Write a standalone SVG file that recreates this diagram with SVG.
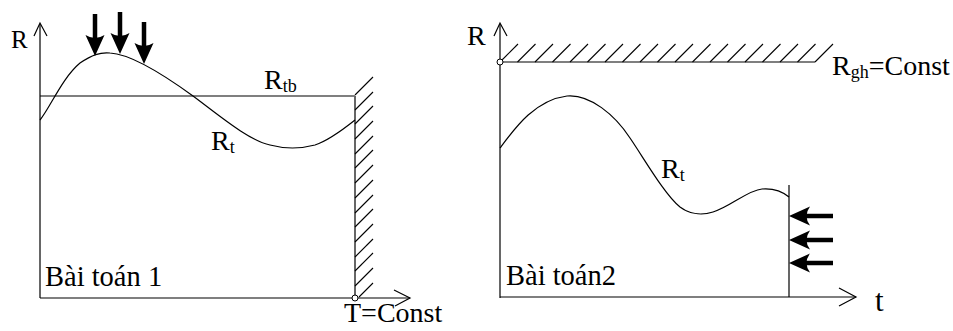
<svg xmlns="http://www.w3.org/2000/svg" width="953" height="331" viewBox="0 0 953 331">
<style>
.ax{stroke:#000;stroke-width:1.2;fill:none}
.gax{stroke:#666;stroke-width:2;fill:none}
.cv{stroke:#000;stroke-width:1.2;fill:none}
.h{stroke:#000;stroke-width:1.1}
text{font-family:'Liberation Serif','Times New Roman',serif;font-size:28px;fill:#000}
.s{font-size:18px}
</style>
<defs>
<g id="darrow">
<line x1="0" y1="0" x2="0" y2="30" stroke="#000" stroke-width="4.5"/>
<path d="M0,42 L-9.5,21 Q0,27 9.5,21 Z" fill="#000"/>
</g>
<g id="larrow">
<line x1="44" y1="0" x2="12" y2="0" stroke="#000" stroke-width="4.5"/>
<path d="M0,0 L21,-9.5 Q14,0 21,9.5 Z" fill="#000"/>
</g>
</defs>
<g id="panel1">
<line class="gax" x1="40" y1="24" x2="40" y2="298"/>
<polyline class="ax" points="34,36 40,23 47,36"/>
<line class="ax" x1="40" y1="298" x2="410" y2="298"/>
<polyline class="ax" points="394,290 410,298 395,306"/>
<line class="ax" x1="40" y1="96" x2="355" y2="96"/>
<line class="gax" x1="355" y1="96" x2="355" y2="298"/>
<g id="hatch1">
<line class="h" x1="355" y1="95" x2="373" y2="77"/>
<line class="h" x1="355" y1="110" x2="373" y2="92"/>
<line class="h" x1="355" y1="124" x2="373" y2="106"/>
<line class="h" x1="355" y1="139" x2="373" y2="121"/>
<line class="h" x1="355" y1="154" x2="373" y2="136"/>
<line class="h" x1="355" y1="168" x2="373" y2="150"/>
<line class="h" x1="355" y1="183" x2="373" y2="165"/>
<line class="h" x1="355" y1="198" x2="373" y2="180"/>
<line class="h" x1="355" y1="213" x2="373" y2="195"/>
<line class="h" x1="355" y1="227" x2="373" y2="209"/>
<line class="h" x1="355" y1="242" x2="373" y2="224"/>
<line class="h" x1="355" y1="257" x2="373" y2="239"/>
<line class="h" x1="355" y1="271" x2="373" y2="253"/>
<line class="h" x1="355" y1="286" x2="373" y2="268"/>
<line class="h" x1="359" y1="297" x2="373" y2="283"/>
</g>
<circle cx="355" cy="298" r="3" fill="#fff" stroke="#000" stroke-width="1"/>
<path class="cv" d="M40,120 C50,108 62,78 80,63 C92,55 100,52 110,53 C130,54 160,72 193,96 C220,116 248,140 270,145 C285,149 300,149 315,145 C330,140 345,128 355,120"/>
<use href="#darrow" x="95" y="14"/>
<use href="#darrow" x="120" y="12"/>
<use href="#darrow" x="144" y="22"/>
<text x="11" y="48" style="font-size:25px">R</text>
<text x="264" y="89">R<tspan class="s" dy="3">tb</tspan></text>
<text x="211" y="150">R<tspan class="s" dy="3">t</tspan></text>
<text x="45" y="286" style="font-size:28.5px">Bài toán 1</text>
<text x="344" y="322">T=Const</text>
</g>
<g id="panel2">
<line class="ax" x1="500" y1="24" x2="500" y2="298"/>
<polyline class="ax" points="494,36 500,23 507,36"/>
<line class="ax" x1="500" y1="297" x2="856" y2="297"/>
<polyline class="ax" points="839,288 856,297 839,306"/>
<line class="ax" x1="500" y1="62" x2="815" y2="62"/>
<g id="hatch2">
<line class="h" x1="500" y1="62" x2="518" y2="44"/>
<line class="h" x1="517.5" y1="62" x2="535.5" y2="44"/>
<line class="h" x1="535" y1="62" x2="553" y2="44"/>
<line class="h" x1="552.5" y1="62" x2="570.5" y2="44"/>
<line class="h" x1="570" y1="62" x2="588" y2="44"/>
<line class="h" x1="587.5" y1="62" x2="605.5" y2="44"/>
<line class="h" x1="605" y1="62" x2="623" y2="44"/>
<line class="h" x1="622.5" y1="62" x2="640.5" y2="44"/>
<line class="h" x1="640" y1="62" x2="658" y2="44"/>
<line class="h" x1="657.5" y1="62" x2="675.5" y2="44"/>
<line class="h" x1="675" y1="62" x2="693" y2="44"/>
<line class="h" x1="692.5" y1="62" x2="710.5" y2="44"/>
<line class="h" x1="710" y1="62" x2="728" y2="44"/>
<line class="h" x1="727.5" y1="62" x2="745.5" y2="44"/>
<line class="h" x1="745" y1="62" x2="763" y2="44"/>
<line class="h" x1="762.5" y1="62" x2="780.5" y2="44"/>
<line class="h" x1="780" y1="62" x2="798" y2="44"/>
<line class="h" x1="797.5" y1="62" x2="815.5" y2="44"/>
<line class="h" x1="815" y1="62" x2="833" y2="44"/>
</g>
<circle cx="500" cy="62" r="3" fill="#fff" stroke="#000" stroke-width="1"/>
<path class="cv" d="M500,148 C515,128 535,100 567,96 C590,94 615,115 630,138 C645,160 665,195 680,207 C688,213 700,216 713,212 C730,207 748,190 762,189 C775,188 783,192 789,197"/>
<line class="ax" x1="789" y1="185" x2="789" y2="297"/>
<use href="#larrow" x="789" y="216"/>
<use href="#larrow" x="789" y="240"/>
<use href="#larrow" x="789" y="263"/>
<text x="467" y="45">R</text>
<text x="832" y="75">R<tspan class="s" dy="3">gh</tspan><tspan dy="-3">=Const</tspan></text>
<text x="661" y="178">R<tspan class="s" dy="3">t</tspan></text>
<text x="506" y="285" style="font-size:28.5px">Bài toán2</text>
<text x="875" y="311" style="font-size:31px">t</text>
</g>
</svg>
